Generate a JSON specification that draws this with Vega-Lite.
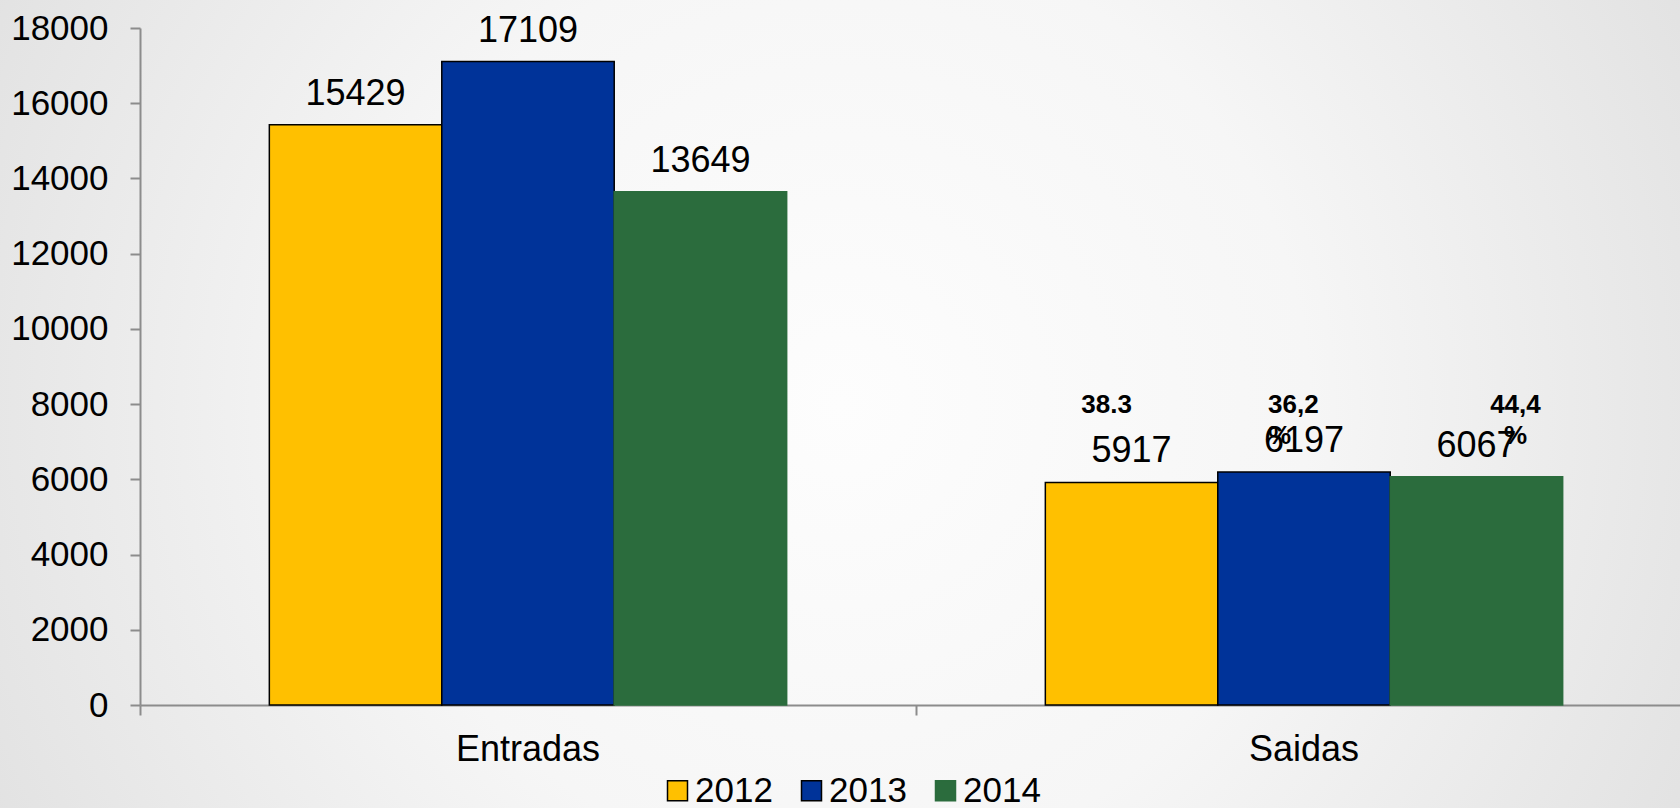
{
  "$schema": "https://vega.github.io/schema/vega-lite/v6.json",
  "width": 1680,
  "height": 808,
  "autosize": {"type": "none"},
  "padding": 0,
  "background": "#e9e9e9",
  "config": {
    "font": "Liberation Sans",
    "view": {
      "stroke": null,
      "fill": {
        "gradient": "radial",
        "x1": 0.5, "y1": 0.5, "r1": 0,
        "x2": 0.5, "y2": 0.5, "r2": 0.62,
        "stops": [
          {"offset": 0, "color": "#fdfdfd"},
          {"offset": 0.45, "color": "#f6f6f6"},
          {"offset": 1, "color": "#dedede"}
        ]
      }
    },
    "legend": {
      "orient": "none",
      "legendX": 660,
      "legendY": 773,
      "direction": "horizontal",
      "symbolType": "square",
      "symbolSize": 400,
      "symbolStrokeWidth": 1.5,
      "labelFontSize": 35,
      "labelColor": "#000000",
      "labelOffset": 0,
      "columnPadding": 21,
      "padding": 0,
      "title": null
    }
  },
  "datasets": {
    "bars": [
      {"category": "Entradas", "year": "2012", "value": 15429},
      {"category": "Entradas", "year": "2013", "value": 17109},
      {"category": "Entradas", "year": "2014", "value": 13649},
      {"category": "Saidas", "year": "2012", "value": 5917},
      {"category": "Saidas", "year": "2013", "value": 6197},
      {"category": "Saidas", "year": "2014", "value": 6067}
    ],
    "notes": [
      {"category": "Saidas", "year": "2012", "note": "38.3"},
      {"category": "Saidas", "year": "2013", "note": "36,2\n%"},
      {"category": "Saidas", "year": "2014", "note": "44,4\n%"}
    ]
  },
  "encoding": {
    "x": {
      "field": "category",
      "type": "nominal",
      "sort": ["Entradas", "Saidas"],
      "scale": {"range": [140, 1692], "paddingInner": 0, "paddingOuter": 0},
      "axis": {
        "orient": "bottom",
        "offset": -103,
        "title": null,
        "labelAngle": 0,
        "bandPosition": 0,
        "tickSize": 10,
        "tickWidth": 2,
        "tickColor": "#8c8c8c",
        "domainColor": "#8c8c8c",
        "domainWidth": 2,
        "labelFontSize": 36,
        "labelColor": "#000000",
        "labelPadding": 17,
        "grid": false
      }
    },
    "xOffset": {
      "field": "year",
      "type": "nominal",
      "sort": ["2012", "2013", "2014"],
      "scale": {"paddingInner": 0, "paddingOuter": 0.75}
    }
  },
  "layer": [
    {
      "data": {"name": "bars"},
      "mark": {"type": "bar", "strokeWidth": 1.5},
      "encoding": {
        "y": {
          "field": "value",
          "type": "quantitative",
          "scale": {"domain": [0, 18000], "range": [705, 28], "nice": false, "zero": true},
          "axis": {
            "orient": "left",
            "offset": -140,
            "title": null,
            "values": [0, 2000, 4000, 6000, 8000, 10000, 12000, 14000, 16000, 18000],
            "format": "d",
            "tickSize": 10,
            "tickWidth": 2,
            "tickColor": "#8c8c8c",
            "domainColor": "#8c8c8c",
            "domainWidth": 2,
            "labelFontSize": 35,
            "labelColor": "#000000",
            "labelPadding": 22,
            "grid": false
          }
        },
        "fill": {
          "field": "year",
          "type": "nominal",
          "scale": {"domain": ["2012", "2013", "2014"], "range": ["#FFC000", "#003399", "#2B6C3D"]}
        },
        "stroke": {
          "field": "year",
          "type": "nominal",
          "scale": {"domain": ["2012", "2013", "2014"], "range": ["#000000", "#000000", "#2B6C3D"]}
        }
      }
    },
    {
      "data": {"name": "bars"},
      "mark": {"type": "text", "baseline": "alphabetic", "align": "center", "dy": -20, "fontSize": 36, "color": "#000000"},
      "encoding": {
        "y": {"field": "value", "type": "quantitative"},
        "text": {"field": "value", "type": "quantitative", "format": "d"}
      }
    },
    {
      "data": {"name": "notes"},
      "transform": [{"filter": "datum.year === '2012'"}],
      "mark": {"type": "text", "baseline": "alphabetic", "align": "center", "dx": -25, "fontSize": 26, "fontWeight": "bold", "lineBreak": "\n", "lineHeight": 31, "color": "#000000"},
      "encoding": {
        "y": {"datum": 7760, "type": "quantitative"},
        "text": {"field": "note", "type": "nominal"}
      }
    },
    {
      "data": {"name": "notes"},
      "transform": [{"filter": "datum.year === '2013'"}],
      "mark": {"type": "text", "baseline": "alphabetic", "align": "left", "dx": -36, "fontSize": 26, "fontWeight": "bold", "lineBreak": "\n", "lineHeight": 31, "color": "#000000"},
      "encoding": {
        "y": {"datum": 7760, "type": "quantitative"},
        "text": {"field": "note", "type": "nominal"}
      }
    },
    {
      "data": {"name": "notes"},
      "transform": [{"filter": "datum.year === '2014'"}],
      "mark": {"type": "text", "baseline": "alphabetic", "align": "center", "dx": 39, "fontSize": 26, "fontWeight": "bold", "lineBreak": "\n", "lineHeight": 31, "color": "#000000"},
      "encoding": {
        "y": {"datum": 7760, "type": "quantitative"},
        "text": {"field": "note", "type": "nominal"}
      }
    }
  ]
}
